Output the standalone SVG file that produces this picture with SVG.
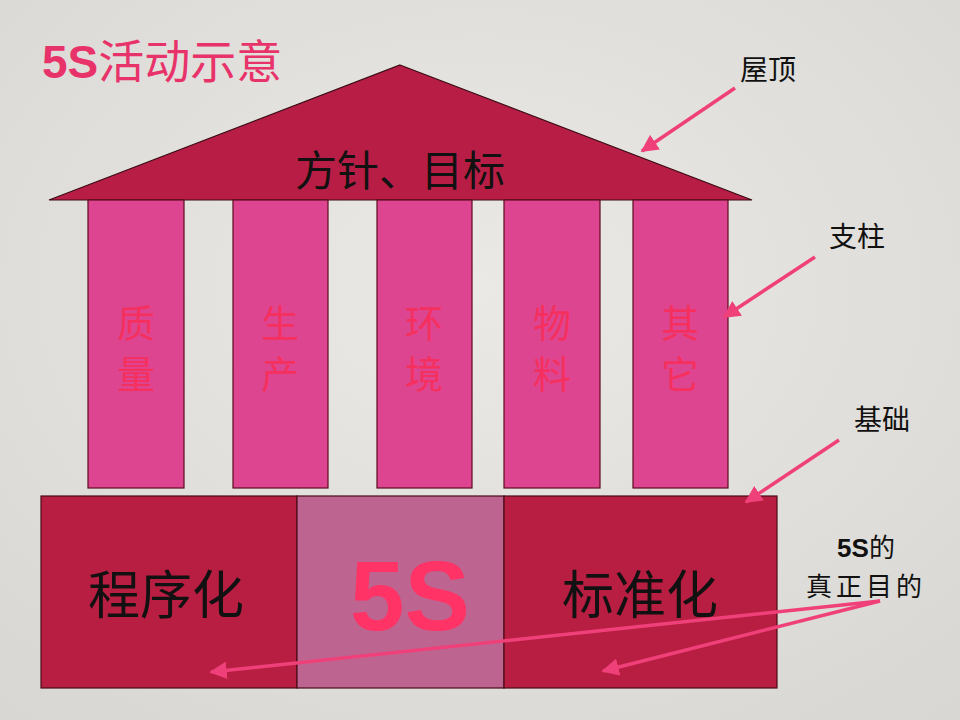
<svg xmlns="http://www.w3.org/2000/svg" width="960" height="720" viewBox="0 0 960 720">
<defs>
<radialGradient id="bg" cx="0.5" cy="0.4" r="0.8">
<stop offset="0" stop-color="#ebe9e5"/>
<stop offset="1" stop-color="#d8d6d2"/>
</radialGradient>
<marker id="ah" viewBox="0 0 10 10" refX="9" refY="5" markerWidth="5" markerHeight="5" orient="auto" markerUnits="strokeWidth">
<path d="M0,0 L10,5 L0,10 z" fill="#f0407a"/>
</marker>
<style>
.cjk{font-family:"Noto Sans CJK SC","Liberation Sans",sans-serif;}
.pillar{fill:#de4590;stroke:#5a0a1e;stroke-width:1.2;}
.ptxt{font-size:38px;fill:#f5305e;text-anchor:middle;}
.base{fill:#b81e42;stroke:#4a0a18;stroke-width:1.2;}
.lbl{font-size:28px;fill:#111;text-anchor:middle;}
.arr{stroke:#f0407a;stroke-width:3.5;fill:none;marker-end:url(#ah);}
</style>
</defs>
<rect width="960" height="720" fill="url(#bg)"/>
<g id="title">
<text x="42" y="78" class="cjk" font-size="46" fill="#e8336a"><tspan font-family="Liberation Sans,sans-serif" font-weight="bold">5S</tspan>活动示意</text>
</g>
<g id="roof">
<polygon points="400,65 752,200 49,200" fill="#b81e45" stroke="#3a0a14" stroke-width="1.2"/>
<text x="400" y="186" class="cjk" font-size="42" fill="#111" text-anchor="middle">方针、目标</text>
</g>
<g id="pillar1"><rect class="pillar" x="88" y="200" width="96" height="288"/><text class="cjk ptxt" x="136" y="337">质</text><text class="cjk ptxt" x="136" y="388">量</text></g>
<g id="pillar2"><rect class="pillar" x="233" y="200" width="95" height="288"/><text class="cjk ptxt" x="280" y="337">生</text><text class="cjk ptxt" x="280" y="388">产</text></g>
<g id="pillar3"><rect class="pillar" x="377" y="200" width="95" height="288"/><text class="cjk ptxt" x="424" y="337">环</text><text class="cjk ptxt" x="424" y="388">境</text></g>
<g id="pillar4"><rect class="pillar" x="504" y="200" width="96" height="288"/><text class="cjk ptxt" x="552" y="337">物</text><text class="cjk ptxt" x="552" y="388">料</text></g>
<g id="pillar5"><rect class="pillar" x="633" y="200" width="95" height="288"/><text class="cjk ptxt" x="680" y="337">其</text><text class="cjk ptxt" x="680" y="388">它</text></g>
<g id="base-left"><rect class="base" x="41" y="496" width="256" height="192"/><text class="cjk" x="166" y="614" font-size="52" fill="#111" text-anchor="middle">程序化</text></g>
<g id="base-mid"><rect x="297" y="496" width="207" height="192" fill="#bd6590" stroke="#4a0a18" stroke-width="1.2"/><text x="410" y="630" font-family="Liberation Sans,sans-serif" font-weight="bold" font-size="98" fill="#ff3366" text-anchor="middle">5S</text></g>
<g id="base-right"><rect class="base" x="504" y="496" width="273" height="192"/><text class="cjk" x="640" y="614" font-size="52" fill="#111" text-anchor="middle">标准化</text></g>
<g id="labels">
<text class="cjk lbl" x="768" y="80">屋顶</text>
<text class="cjk lbl" x="857" y="247">支柱</text>
<text class="cjk lbl" x="882" y="430">基础</text>
<text class="cjk" x="866" y="557" font-size="26" fill="#111" text-anchor="middle"><tspan font-family="Liberation Sans,sans-serif" font-weight="bold">5S</tspan>的</text>
<text class="cjk" x="866" y="596" font-size="26" fill="#111" text-anchor="middle" letter-spacing="4">真正目的</text>
</g>
<g id="connectors">
<line class="arr" x1="735" y1="88" x2="642" y2="151"/>
<line class="arr" x1="815" y1="257" x2="724" y2="317"/>
<line class="arr" x1="839" y1="440" x2="746" y2="502"/>
<line class="arr" x1="880" y1="601" x2="211" y2="672"/>
<line class="arr" x1="880" y1="601" x2="603" y2="671"/>
</g>
</svg>
